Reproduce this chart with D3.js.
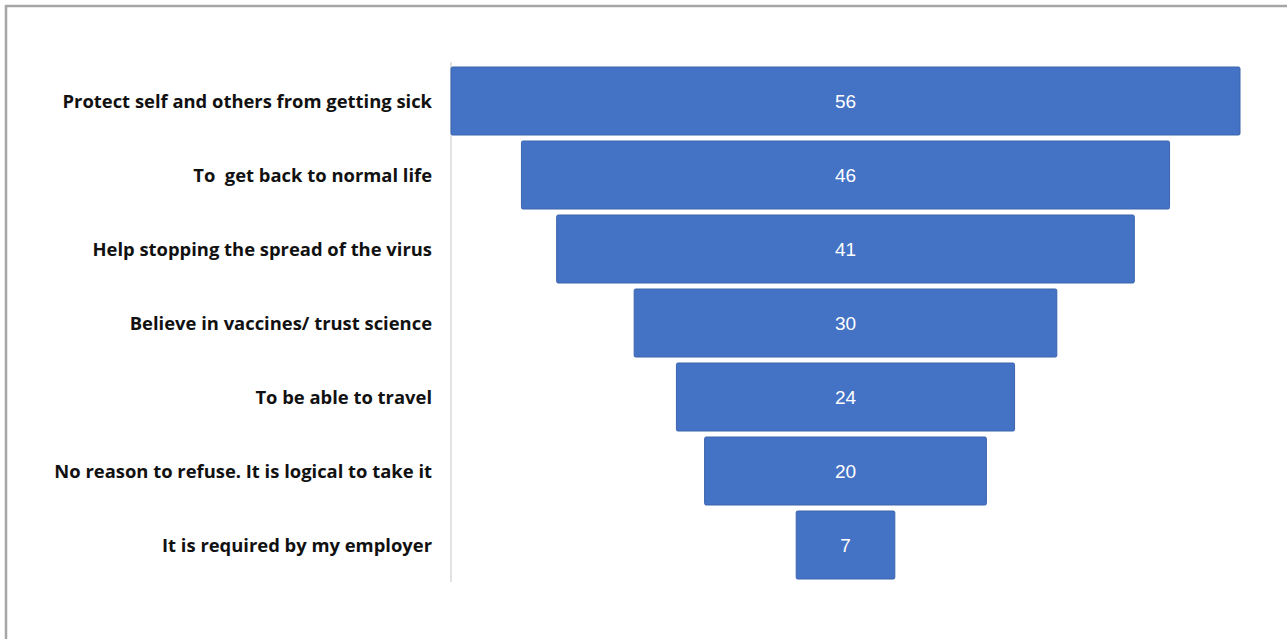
<!DOCTYPE html>
<html><head><meta charset="utf-8">
<script src="https://cdn.jsdelivr.net/npm/d3@7"></script>
<style>
html,body{margin:0;padding:0;background:#fff;}
svg{display:block;}
</style></head>
<body>
<script>
const categories = [
  "Protect self and others from getting sick",
  "To  get back to normal life",
  "Help stopping the spread of the virus",
  "Believe in vaccines/ trust science",
  "To be able to travel",
  "No reason to refuse. It is logical to take it",
  "It is required by my employer"
];
const values = [56, 46, 41, 30, 24, 20, 7];

const W = 1287, H = 639;
const svg = d3.select("body").append("svg").attr("width", W).attr("height", H);

// frame
svg.append("rect").attr("x", 0).attr("y", 0).attr("width", W).attr("height", H).attr("fill", "#fff");
svg.append("line").attr("x1", 5).attr("x2", W).attr("y1", 6).attr("y2", 6).attr("stroke", "#a6a6a6").attr("stroke-width", 2.5);
svg.append("line").attr("x1", 6).attr("x2", 6).attr("y1", 5).attr("y2", H).attr("stroke", "#a6a6a6").attr("stroke-width", 2.5);

const cx = 845.5;
const w = d3.scaleLinear().domain([0, 56]).range([0, 789]);
const y = d3.scaleBand().domain(categories).range([64, 582]).paddingInner(6/74).paddingOuter(3/74);

// axis line
svg.append("line").attr("x1", 451).attr("x2", 451).attr("y1", 62).attr("y2", 582)
  .attr("stroke", "#d9d9d9").attr("stroke-width", 1.5);

const g = svg.append("g");
g.selectAll("rect.bar").data(values).join("rect")
  .attr("class", "bar")
  .attr("x", d => cx - w(d) / 2)
  .attr("y", (d, i) => y(categories[i]))
  .attr("width", d => w(d))
  .attr("height", y.bandwidth())
  .attr("rx", 1.5)
  .attr("fill", "#4472c4")
  .attr("stroke", "#3d65ad")
  .attr("stroke-width", 1);

g.selectAll("text.val").data(values).join("text")
  .attr("class", "val")
  .attr("x", cx)
  .attr("y", (d, i) => y(categories[i]) + y.bandwidth() / 2)
  .attr("dy", "0.36em")
  .attr("text-anchor", "middle")
  .attr("fill", "#fff")
  .style("font-family", "Liberation Sans, Arial, sans-serif")
  .style("font-size", "19px")
  .text(d => d);

g.selectAll("text.cat").data(categories).join("text")
  .attr("class", "cat")
  .attr("x", 432)
  .attr("y", d => y(d) + y.bandwidth() / 2)
  .attr("dy", "0.36em")
  .attr("text-anchor", "end")
  .attr("fill", "#111")
  .style("white-space", "pre")
  .style("font-family", "'Open Sans', sans-serif")
  .style("font-weight", "bold")
  .style("font-size", "18.4px")
  .text(d => d);
</script>
</body></html>
